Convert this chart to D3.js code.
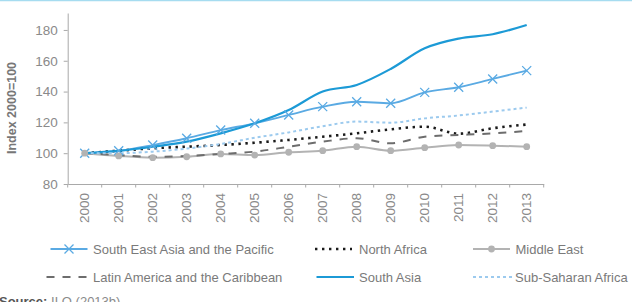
<!DOCTYPE html>
<html>
<head>
<meta charset="utf-8">
<script src="https://cdn.jsdelivr.net/npm/d3@7"></script>
<style>
  body { margin: 0; background: #fff; }
  svg { display: block; font-family: "Liberation Sans", Arial, sans-serif; }
</style>
</head>
<body>
<div id="chart"></div>
<script>
// Data (index 2000 = 100)
const years = ["2000","2001","2002","2003","2004","2005","2006","2007","2008","2009","2010","2011","2012","2013"];
const southEastAsia = [100, 101.6, 105.3, 109.7, 115, 119.4, 124.8, 130.2, 133.4, 132.4, 139.5, 142.8, 148.2, 153.6];
const northAfrica   = [100, 101.6, 103.2, 104.2, 105.3, 106.8, 108.6, 110.7, 112.9, 115.5, 117.2, 112.7, 116.2, 118.6];
const middleEast    = [100, 98.2, 97.1, 97.7, 99.5, 98.8, 100.6, 101.6, 104.2, 101.6, 103.6, 105.3, 104.9, 104.2];
const latinAmerica  = [100, 98.8, 97.7, 98.2, 99.5, 101, 104.2, 107.5, 109.7, 106.4, 110.7, 111.8, 112.9, 114.4];
const southAsia     = [100, 101.5, 104.2, 107.5, 112.9, 119.4, 128, 140, 144.3, 154.7, 168.1, 174.4, 177.2, 183.2];
const subSaharan    = [100, 100, 101, 103, 106, 110, 113.5, 117.5, 120.5, 119.8, 122.6, 124.5, 127, 129.6];
const yTicks = [80, 100, 120, 140, 160, 180];

const series = [
    { name: "South East Asia and the Pacific", values: southEastAsia, color: "#5aaae3", width: 1.8, dash: null, marker: "x" },
    { name: "North Africa", values: northAfrica, color: "#1a1a1a", width: 2.6, dash: "2.4,4.6", marker: null },
    { name: "Middle East", values: middleEast, color: "#b3b3b3", width: 2, dash: null, marker: "circle" },
    { name: "Latin America and the Caribbean", values: latinAmerica, color: "#6d6d6d", width: 2, dash: "8,8", marker: null },
    { name: "South Asia", values: southAsia, color: "#1c9ad6", width: 2.2, dash: null, marker: null },
    { name: "Sub-Saharan Africa", values: subSaharan, color: "#9ccaee", width: 2, dash: "3,3", marker: null }
];

const W = 632, H = 302;
const svg = d3.select("#chart").append("svg")
    .attr("width", W)
    .attr("height", H);

// top rule
svg.append("line")
    .attr("x1", 0).attr("x2", W)
    .attr("y1", 0.5).attr("y2", 0.5)
    .attr("stroke", "#a6dcf0")
    .attr("stroke-width", 1.5);

const x = d3.scaleBand().domain(years).range([67.7, 543.7]).padding(0);
const y = d3.scaleLinear().domain([80, 191]).range([184, 13]);
const xc = d => x(d) + x.bandwidth() / 2;

const axisColor = "#a9a9a9";
const textColor = "#8a8a8a";

// y axis
const yAxis = svg.append("g")
    .attr("transform", `translate(${x.range()[0]},0)`)
    .call(d3.axisLeft(y).tickValues(yTicks).tickSize(4).tickSizeOuter(0).tickPadding(6));
yAxis.select(".domain").attr("stroke", axisColor);
yAxis.selectAll(".tick line").attr("stroke", axisColor);
yAxis.selectAll("text")
    .attr("fill", textColor)
    .style("font-size", "13.5px");

// x axis
const xAxis = svg.append("g")
    .attr("transform", `translate(0,${y(80)})`)
    .call(d3.axisBottom(x).tickSize(0).tickSizeOuter(0));
xAxis.select(".domain").attr("stroke", axisColor);
xAxis.selectAll("text")
    .attr("fill", textColor)
    .style("font-size", "13.5px")
    .attr("transform", "rotate(-90)")
    .attr("text-anchor", "end")
    .attr("x", -9)
    .attr("y", 0)
    .attr("dy", "0.35em");

// x tick marks on band edges
const edges = years.map(d => x(d)).concat([x.range()[1]]);
svg.append("g").selectAll("line")
    .data(edges)
    .enter().append("line")
    .attr("x1", d => d).attr("x2", d => d)
    .attr("y1", y(80)).attr("y2", y(80) + 3.5)
    .attr("stroke", axisColor);

// y axis title
svg.append("text")
    .attr("transform", `translate(16,${(y(80) + y(180)) / 2 + 1}) rotate(-90)`)
    .attr("text-anchor", "middle")
    .attr("fill", "#777")
    .style("font-size", "12.5px")
    .style("font-weight", "bold")
    .text("Index 2000=100");

// lines
const line = d3.line()
    .x((d, i) => xc(years[i]))
    .y(d => y(d))
    .curve(d3.curveMonotoneX);

const plot = svg.append("g");
series.forEach(s => {
    plot.append("path")
        .datum(s.values)
        .attr("fill", "none")
        .attr("stroke", s.color)
        .attr("stroke-width", s.width)
        .attr("stroke-dasharray", s.dash)
        .attr("d", line);
});

function drawMarker(g, type, cx, cy, color) {
    if (type === "x") {
        const r = 4.5;
        g.append("path")
            .attr("d", `M${cx - r},${cy - r}L${cx + r},${cy + r}M${cx - r},${cy + r}L${cx + r},${cy - r}`)
            .attr("stroke", color)
            .attr("stroke-width", 1.3)
            .attr("fill", "none");
    } else if (type === "circle") {
        g.append("circle")
            .attr("cx", cx).attr("cy", cy).attr("r", 3.4)
            .attr("fill", color);
    }
}

series.filter(s => s.marker).forEach(s => {
    s.values.forEach((v, i) => drawMarker(plot, s.marker, xc(years[i]), y(v), s.color));
});

// legend
const legendItems = [
    { s: series[0], x1: 50.5, x2: 87.5, tx: 93, ty: 249 },
    { s: series[1], x1: 315, x2: 352, tx: 359, ty: 249 },
    { s: series[2], x1: 473, x2: 510, tx: 515.5, ty: 249 },
    { s: series[3], x1: 46.5, x2: 87.5, tx: 93, ty: 277 },
    { s: series[4], x1: 316.5, x2: 354, tx: 359, ty: 277 },
    { s: series[5], x1: 473, x2: 512, tx: 515, ty: 277 }
];
const legend = svg.append("g");
legendItems.forEach(it => {
    legend.append("line")
        .attr("x1", it.x1).attr("x2", it.x2)
        .attr("y1", it.ty).attr("y2", it.ty)
        .attr("stroke", it.s.color)
        .attr("stroke-width", it.s.width)
        .attr("stroke-dasharray", it.s.dash);
    if (it.s.marker) drawMarker(legend, it.s.marker, (it.x1 + it.x2) / 2, it.ty, it.s.color);
    legend.append("text")
        .attr("x", it.tx)
        .attr("y", it.ty)
        .attr("dy", "0.35em")
        .attr("fill", "#7a7a7a")
        .style("font-size", "13px")
        .text(it.s.name);
});

// source
const src = svg.append("text")
    .attr("x", -1)
    .attr("y", 306)
    .style("font-size", "13px")
    .attr("fill", "#8a8a8a");
src.append("tspan").attr("font-weight", "bold").attr("fill", "#555").text("Source: ");
src.append("tspan").text("ILO (2013b)");
</script>
</body>
</html>
